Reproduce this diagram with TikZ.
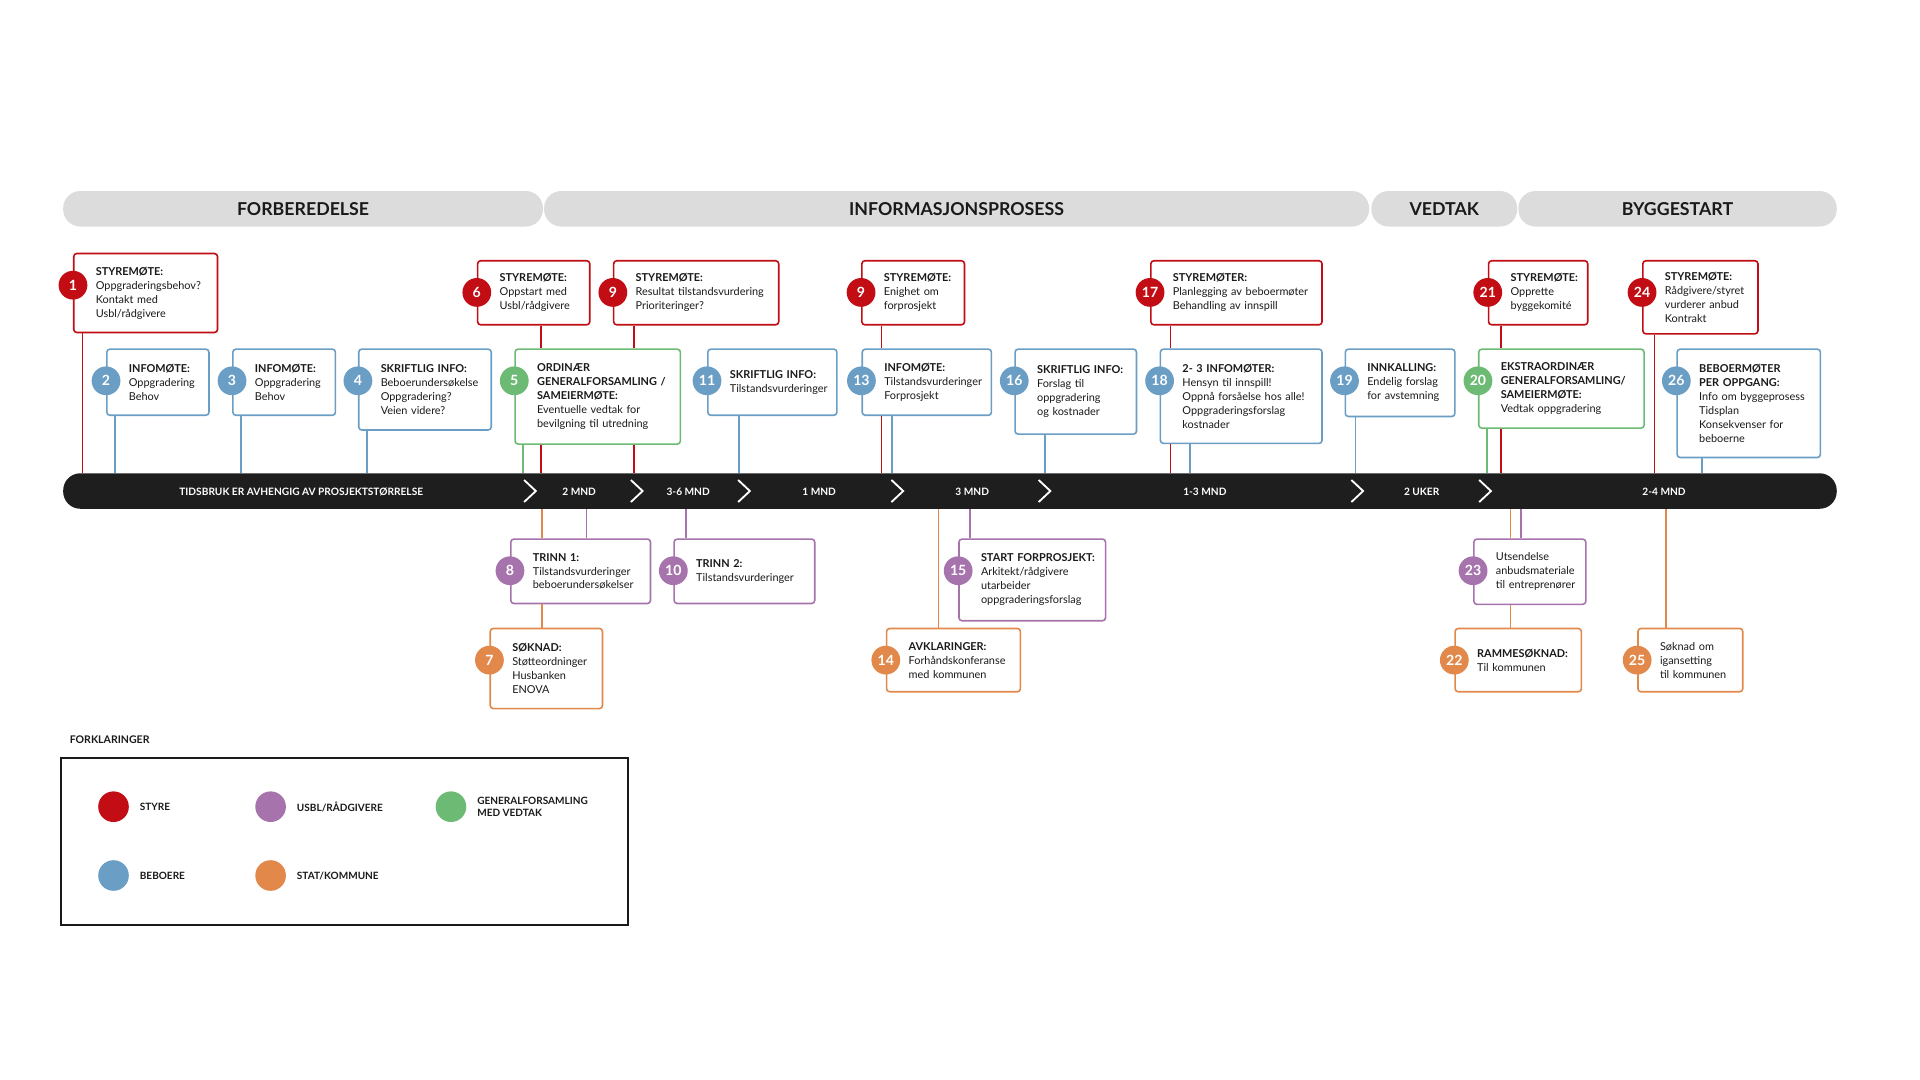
\documentclass[tikz,border=0pt]{standalone}
\usepackage{fontspec}
\setmainfont{Lato}
\usepackage{tikz}
\definecolor{styre}{HTML}{C10D13}
\definecolor{beboer}{HTML}{6A9EC5}
\definecolor{usbl}{HTML}{A673AD}
\definecolor{stat}{HTML}{E2884A}
\definecolor{gf}{HTML}{6CBA74}
\definecolor{ink}{HTML}{1A1A1A}
\definecolor{fase}{HTML}{DCDCDC}
\definecolor{tid}{HTML}{1E1E1E}

\begin{document}
\begin{tikzpicture}[x=1pt,y=-1pt,
    box/.style={draw=#1, fill=white, line width=1.3pt, rounded corners=2.5pt,
      anchor=north west, align=left, inner xsep=4pt, inner ysep=1pt, text=ink,
      font=\fontsize{8.9}{11.4}\selectfont,
      execute at begin node={\leftskip=14pt\relax}},
    num/.style={circle, fill=#1, text=white, minimum size=23.5pt, inner sep=0pt,
      font=\fontsize{11.5}{11.5}\selectfont\bfseries},
    link/.style={draw=#1, line width=1.3pt},
    fasebar/.style={fill=fase, rounded corners=14pt, minimum height=29pt, text=ink,
      font=\fontsize{14.5}{14.5}\selectfont\bfseries},
    tidlbl/.style={text=white, font=\fontsize{8.3}{8.5}\selectfont\bfseries},
    leglbl/.style={anchor=west, align=left, text=ink,
      font=\fontsize{8.2}{10}\selectfont\bfseries}]
    \def \rowa {212.3} % styremoeter
    \def \rowb {284.5} % beboere og generalforsamling
    \def \rowc {439.6} % usbl/raadgivere
    \def \rowd {512.6} % stat/kommune
    \def \dy {26.5}    % circle below the top edge of its box
    \path[use as bounding box, fill=white] (0,0) rectangle (1568,882);

    % phases
    \node[fasebar, minimum width=391.8pt] (f1) at (247.5,170.5) {FORBEREDELSE};
    \node[fasebar, minimum width=673.7pt] (f2) at (781.2,170.5) {INFORMASJONSPROSESS};
    \node[fasebar, minimum width=119pt] (f3) at (1179.5,170.5) {VEDTAK};
    \node[fasebar, minimum width=260pt] (f4) at (1370,170.5) {BYGGESTART};

    % time line
    \node[fill=tid, rounded corners=14pt, minimum width=1448.4pt, minimum height=29pt,
      inner sep=0pt] (bar) at (775.8,401) {};
    \foreach \x/\txt in {246/TIDSBRUK ER AVHENGIG AV PROSJEKTSTØRRELSE, 473/2 MND,
      562/3-6 MND, 669/1 MND, 794/3 MND, 984/1-3 MND, 1161/2 UKER, 1359/2-4 MND}
      \node[tidlbl] (tid\x) at (\x,402) {\txt};
    \foreach \x in {432.8,520,607.6,732.8,853,1108.4,1212.8}
      \draw[white, line width=1.5pt] (\x-4.8,392) -- (\x+4.8,401) -- (\x-4.8,410);

    % styre
    \node[box=styre, text width=109.4pt, minimum height=64.5pt] (b1) at (59.6,206.4)
      {\textbf{STYREMØTE:}\\Oppgraderingsbehov?\\Kontakt med\\Usbl/rådgivere};
    \node[box=styre, text width=83.6pt, minimum height=52.3pt] (b6) at (389.4,\rowa)
      {\textbf{STYREMØTE:}\\Oppstart med\\Usbl/rådgivere};
    \node[box=styre, text width=126.8pt, minimum height=52.3pt] (b9a) at (500.5,\rowa)
      {\textbf{STYREMØTE:}\\Resultat tilstandsvurdering\\Prioriteringer?};
    \node[box=styre, text width=75.8pt, minimum height=52.3pt] (b9b) at (703.2,\rowa)
      {\textbf{STYREMØTE:}\\Enighet om\\forprosjekt};
    \node[box=styre, text width=131.8pt, minimum height=52.3pt] (b17) at (939.2,\rowa)
      {\textbf{STYREMØTER:}\\Planlegging av beboermøter\\Behandling av innspill};
    \node[box=styre, text width=73pt, minimum height=52.3pt] (b21) at (1215,\rowa)
      {\textbf{STYREMØTE:}\\Opprette\\byggekomité};
    \node[box=styre, text width=86pt, minimum height=59.7pt] (b24) at (1341,\rowa)
      {\textbf{STYREMØTE:}\\Rådgivere/styret\\vurderer anbud\\Kontrakt};

    % beboere og generalforsamling
    \node[box=beboer, text width=75.4pt, minimum height=54pt] (b2) at (86.6,\rowb)
      {\textbf{INFOMØTE:}\\Oppgradering\\Behov};
    \node[box=beboer, text width=75.8pt, minimum height=54pt] (b3) at (189.5,\rowb)
      {\textbf{INFOMØTE:}\\Oppgradering\\Behov};
    \node[box=beboer, text width=100.2pt, minimum height=66pt] (b4) at (292.3,\rowb)
      {\textbf{SKRIFTLIG INFO:}\\Beboerundersøkelse\\Oppgradering?\\Veien videre?};
    \node[box=gf, text width=127pt, minimum height=77.5pt] (b5) at (420,\rowb)
      {\textbf{ORDINÆR}\\\textbf{GENERALFORSAMLING /}\\\textbf{SAMEIERMØTE:}\\Eventuelle vedtak for\\bevilgning til utredning};
    \node[box=beboer, text width=97.4pt, minimum height=54pt] (b11) at (577.4,\rowb)
      {\textbf{SKRIFTLIG INFO:}\\Tilstandsvurderinger};
    \node[box=beboer, text width=97.5pt, minimum height=54pt] (b13) at (703.5,\rowb)
      {\textbf{INFOMØTE:}\\Tilstandsvurderinger\\Forprosjekt};
    \node[box=beboer, text width=91.2pt, minimum height=69.4pt] (b16) at (828.3,\rowb)
      {\textbf{SKRIFTLIG INFO:}\\Forslag til\\oppgradering\\og kostnader};
    \node[box=beboer, text width=124pt, minimum height=77pt] (b18) at (947,\rowb)
      {\textbf{2- 3 INFOMØTER:}\\Hensyn til innspill!\\Oppnå forsåelse hos alle!\\Oppgraderingsforslag\\kostnader};
    \node[box=beboer, text width=81.5pt, minimum height=55pt] (b19) at (1098,\rowb)
      {\textbf{INNKALLING:}\\Endelig forslag\\for avstemning};
    \node[box=gf, text width=127pt, minimum height=64.5pt] (b20) at (1207,\rowb)
      {\textbf{EKSTRAORDINÆR}\\\textbf{GENERALFORSAMLING/}\\\textbf{SAMEIERMØTE:}\\Vedtak oppgradering};
    \node[box=beboer, text width=109pt, minimum height=88.5pt] (b26) at (1369,\rowb)
      {\textbf{BEBOERMØTER}\\\textbf{PER OPPGANG:}\\Info om byggeprosess\\Tidsplan\\Konsekvenser for\\beboerne};

    % usbl/raadgivere
    \node[box=usbl, text width=106.1pt, minimum height=52.6pt] (b8) at (416.5,\rowc)
      {\textbf{TRINN 1:}\\Tilstandsvurderinger\\beboerundersøkelser};
    \node[box=usbl, text width=106.8pt, minimum height=52.6pt] (b10) at (549.9,\rowc)
      {\textbf{TRINN 2:}\\Tilstandsvurderinger};
    \node[box=usbl, text width=111.7pt, minimum height=66.7pt] (b15) at (782.5,\rowc)
      {\textbf{START FORPROSJEKT:}\\Arkitekt/rådgivere\\utarbeider\\oppgraderingsforslag};
    \node[box=usbl, text width=83.4pt, minimum height=53.3pt] (b23) at (1203,\rowc)
      {Utsendelse\\anbudsmateriale\\til entreprenører};

    % stat/kommune
    \node[box=stat, text width=83.7pt, minimum height=65.4pt] (b7) at (399.7,\rowd)
      {\textbf{SØKNAD:}\\Støtteordninger\\Husbanken\\ENOVA};
    \node[box=stat, text width=101.3pt, minimum height=51.7pt] (b14) at (723.4,\rowd)
      {\textbf{AVKLARINGER:}\\Forhåndskonferanse\\med kommunen};
    \node[box=stat, text width=95.1pt, minimum height=51.7pt] (b22) at (1187.7,\rowd)
      {\textbf{RAMMESØKNAD:}\\Til kommunen};
    \node[box=stat, text width=77.6pt, minimum height=51.7pt] (b25) at (1337,\rowd)
      {Søknad om\\igansetting\\til kommunen};

    % numbers
    \foreach \bx/\n/\col in {b1/1/styre, b6/6/styre, b9a/9/styre, b9b/9/styre,
      b17/17/styre, b21/21/styre, b24/24/styre, b2/2/beboer, b3/3/beboer, b4/4/beboer,
      b5/5/gf, b11/11/beboer, b13/13/beboer, b16/16/beboer, b18/18/beboer,
      b19/19/beboer, b20/20/gf, b26/26/beboer, b8/8/usbl, b10/10/usbl, b15/15/usbl,
      b23/23/usbl, b7/7/stat, b14/14/stat, b22/22/stat, b25/25/stat}
      \node[num=\col] (n\bx) at ([yshift=-\dy pt]\bx.north west) {\n};

    % connectors
    \foreach \src/\dst/\x/\col in {b1/bar/67.4/styre, b2/bar/94/beboer,
      b3/bar/196.8/beboer, b4/bar/299.8/beboer, b6/b5/441.9/styre, b5/bar/441.9/styre,
      b5/bar/427/gf, b9a/b5/517.7/styre, b5/bar/517.7/styre, b11/bar/603.7/beboer,
      b9b/b13/720/styre, b13/bar/720/styre, b13/bar/728.5/beboer, b16/bar/853.5/beboer,
      b17/b18/956/styre, b18/bar/956/styre, b18/bar/972/beboer, b19/bar/1107/beboer,
      b21/b20/1225.6/styre, b20/bar/1225.6/styre, b20/bar/1214.5/gf,
      b24/bar/1351.2/styre, b26/bar/1390/beboer,
      bar/b8/442.4/stat, b8/b7/442.4/stat, bar/b8/479/usbl, bar/b10/560/usbl,
      bar/b14/766.4/stat, bar/b15/792/usbl, bar/b23/1233.7/stat, b23/b22/1233.7/stat,
      bar/b23/1242/usbl, bar/b25/1360.6/stat}
      \draw[link=\col] (\src.south -| \x,0) -- (\dst.north -| \x,0);

    % legend
    \node[anchor=west, text=ink, font=\fontsize{8.6}{8.6}\selectfont\bfseries] (forkl)
      at (53.5,604) {FORKLARINGER};
    \node[draw=ink, line width=1.6pt, minimum width=463pt, minimum height=137pt,
      anchor=north west] (legende) at (49,618) {};
    \foreach \x/\y/\col/\txt in {92.7/658.8/styre/STYRE, 221/658.8/usbl/{USBL/RÅDGIVERE},
      368.3/658.8/gf/{GENERALFORSAMLING\\MED VEDTAK}, 92.7/715/beboer/BEBOERE,
      221/715/stat/{STAT/KOMMUNE}}
    {
      \node[circle, fill=\col, minimum size=25pt, inner sep=0pt] (dot\col) at (\x,\y) {};
      \node[leglbl] (lbl\col) at (\x+18,\y) {\txt};
    }
\end{tikzpicture}
\end{document}
